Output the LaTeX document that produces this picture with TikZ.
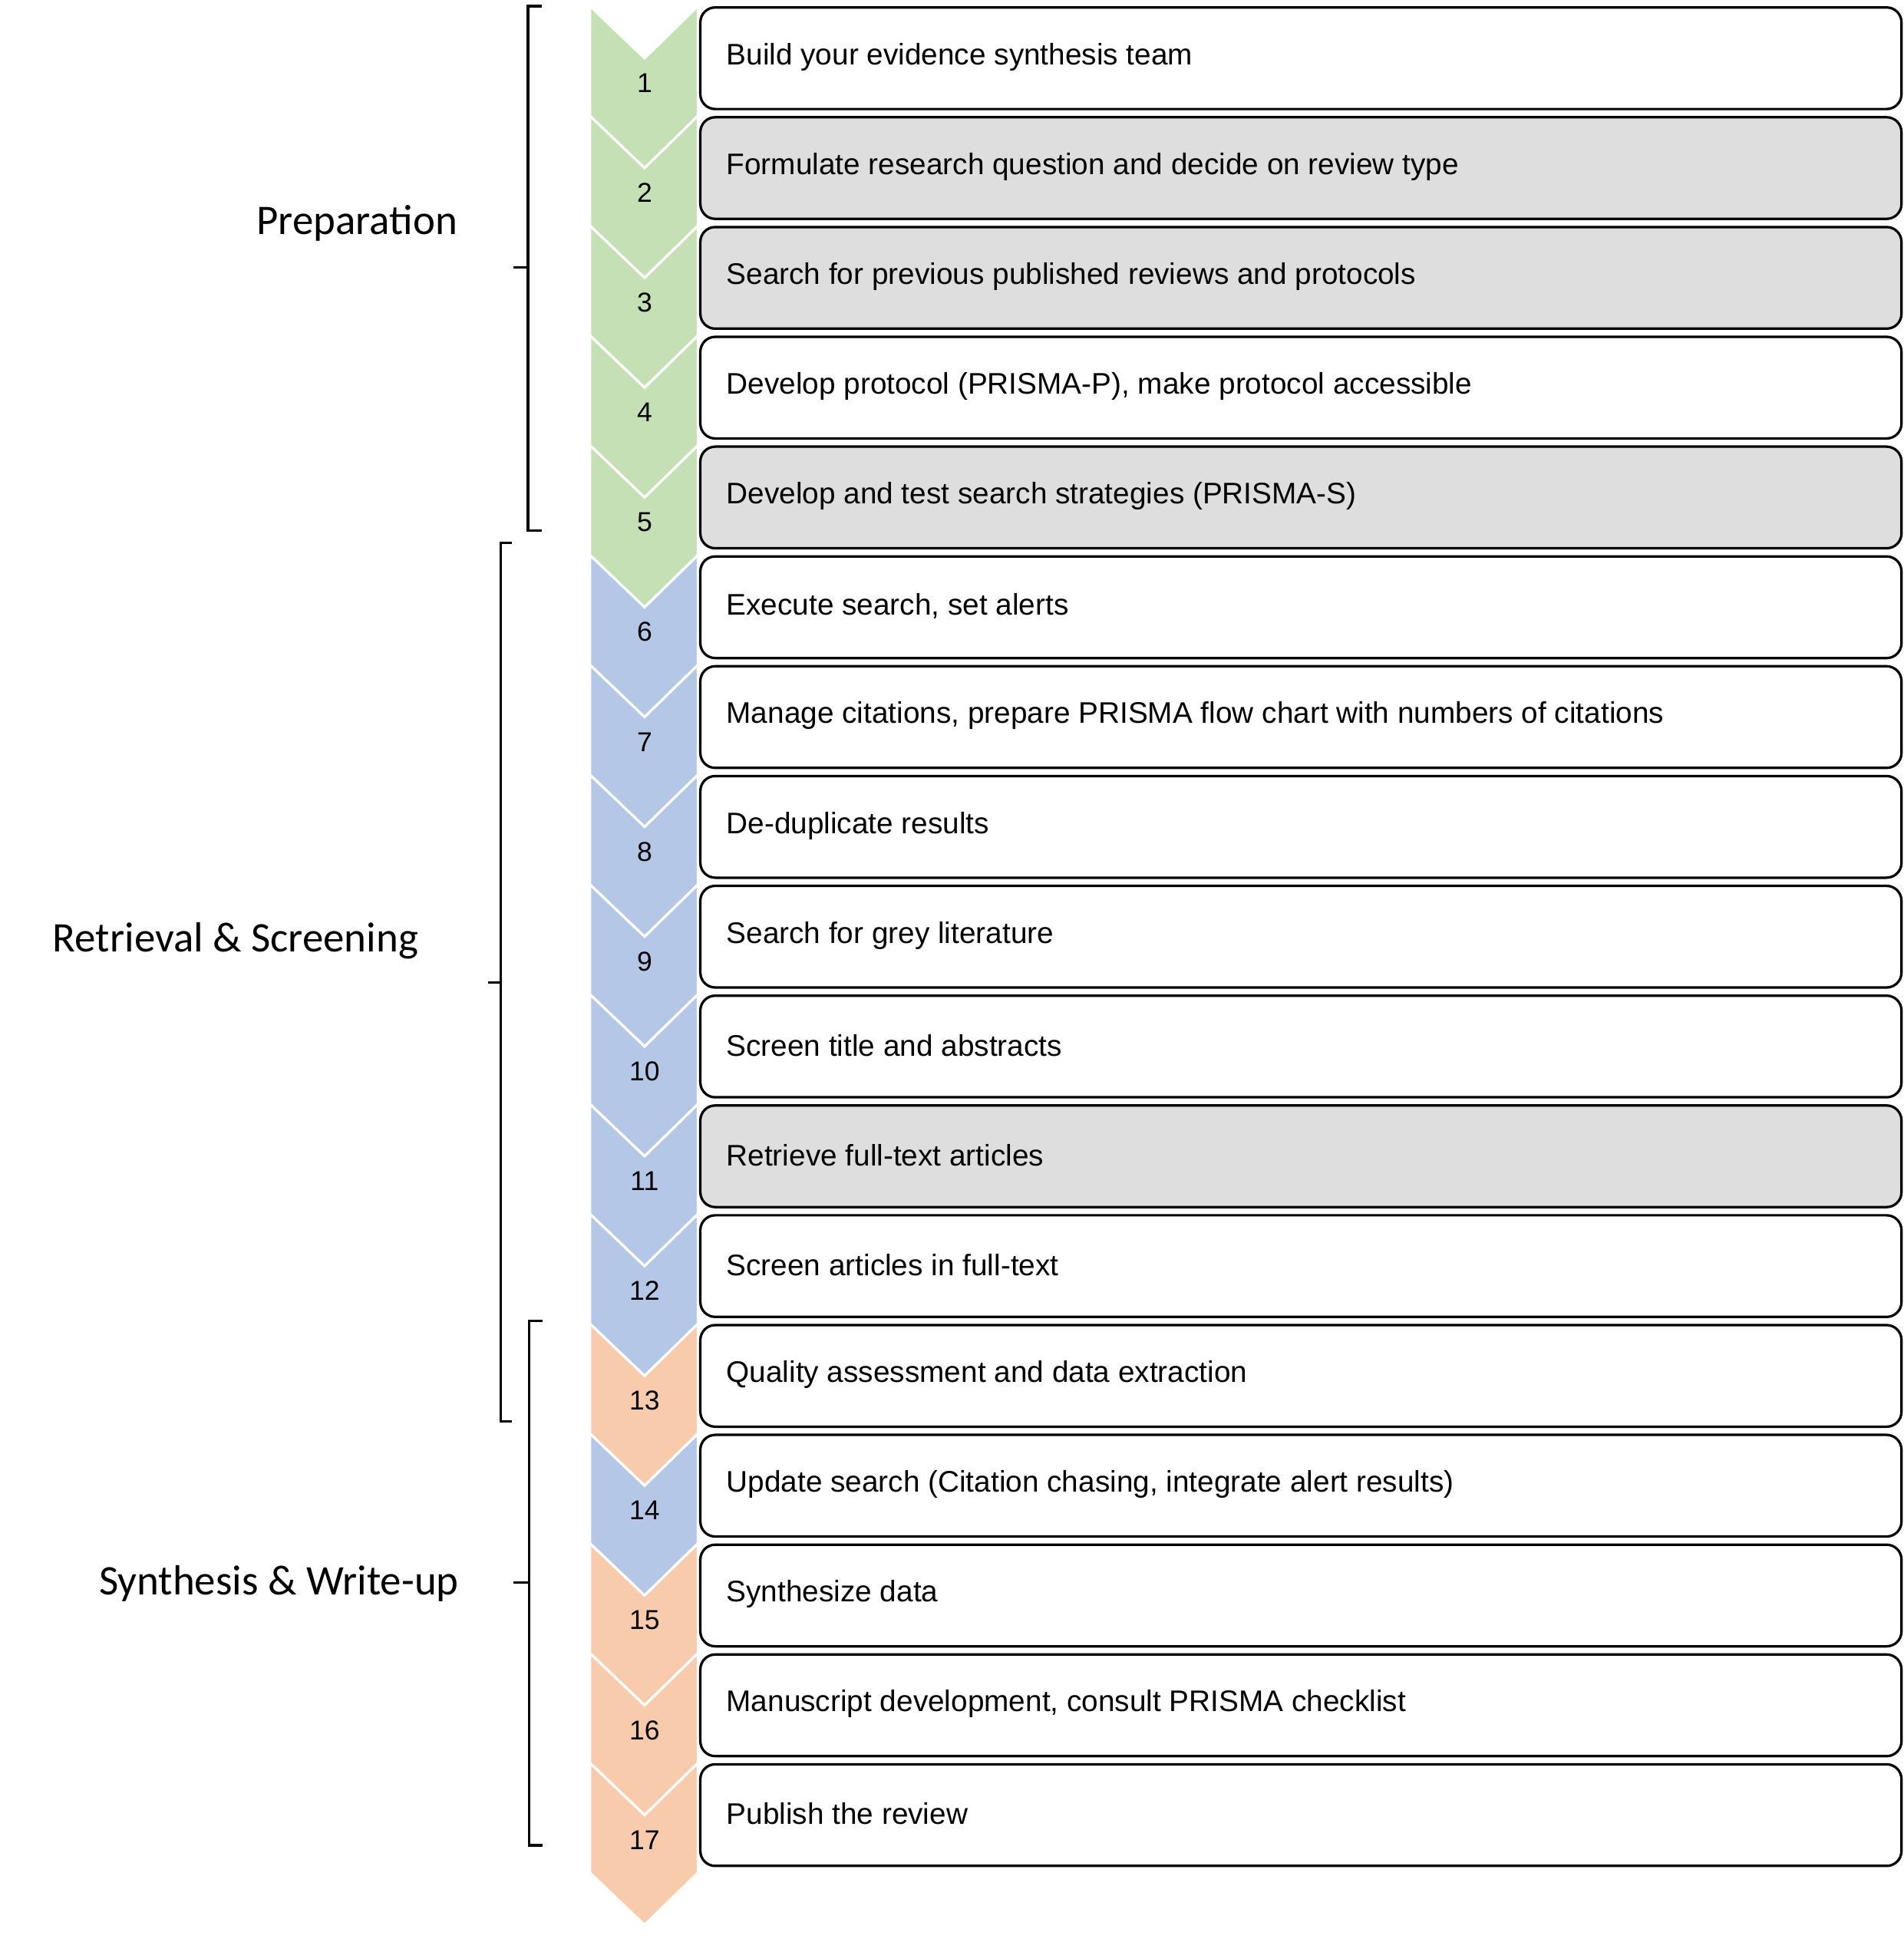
\documentclass[tikz,border=0pt]{standalone}
\usepackage{fontspec}
\setmainfont{Liberation Sans}
\newfontfamily\calib{Carlito}
\definecolor{cgreen}{HTML}{C5E0B4}
\definecolor{cblue}{HTML}{B4C7E7}
\definecolor{corange}{HTML}{F8CBAD}
\definecolor{cgrey}{HTML}{DEDEDE}
\begin{document}
\begin{tikzpicture}[x=0.5pt,y=-0.5pt,
  stepbox/.style={draw=black,line width=1pt,rounded corners=6pt,minimum width=484.5pt,minimum height=41pt,anchor=north west,inner sep=0pt},
  steptext/.style={anchor=west,font=\fontsize{12}{14}\selectfont},
  numtext/.style={font=\fontsize{11}{13}\selectfont},
  grouplabel/.style={font=\calib\fontsize{17}{20}\selectfont},
  bracepath/.style={draw=black,line width=1pt}]
\useasboundingbox (0,0) rectangle (1536,1567);
\fill[white] (0,0) rectangle (1536,1567);
\def\rh{88.6}
\foreach \i/\c/\f/\t in {
 1/cgreen/white/Build your evidence synthesis team,
 2/cgreen/cgrey/Formulate research question and decide on review type,
 3/cgreen/cgrey/Search for previous published reviews and protocols,
 4/cgreen/white/{Develop protocol (PRISMA-P), make protocol accessible},
 5/cgreen/cgrey/Develop and test search strategies (PRISMA-S),
 6/cblue/white/{Execute search, set alerts},
 7/cblue/white/{Manage citations, prepare PRISMA flow chart with numbers of citations},
 8/cblue/white/De-duplicate results,
 9/cblue/white/Search for grey literature,
 10/cblue/white/Screen title and abstracts,
 11/cblue/cgrey/Retrieve full-text articles,
 12/cblue/white/Screen articles in full-text,
 13/corange/white/Quality assessment and data extraction,
 14/cblue/white/{Update search (Citation chasing, integrate alert results)},
 15/corange/white/Synthesize data,
 16/corange/white/{Manuscript development, consult PRISMA checklist},
 17/corange/white/Publish the review}{
  \pgfmathsetmacro\tp{5+(\i-1)*\rh}
  \pgfmathsetmacro\bt{\tp+\rh}
  \filldraw[fill=\c,draw=white,line width=1pt] (476,\tp) -- (520,\tp+42) -- (563,\tp) -- (563,\bt) -- (520,\bt+42) -- (476,\bt) -- cycle;
  \node[numtext] (n\i) at (520,\tp+62) {\i};
  \node[stepbox,fill=\f] (b\i) at (564,\tp) {};
  \node[steptext] (t\i) at (579,\tp+41) {\t};
}
\draw[bracepath] (437,5) -- (426,5) -- (426,428) -- (437,428);
\coordinate (p1) at (426,216); \coordinate (p2) at (414,216);
\draw[bracepath] (p1) -- (p2);
\draw[bracepath] (413,438) -- (404,438) -- (404,1147) -- (413,1147);
\coordinate (r1) at (404,793); \coordinate (r2) at (394,793);
\draw[bracepath] (r1) -- (r2);
\draw[bracepath] (438,1066) -- (427,1066) -- (427,1489) -- (438,1489);
\coordinate (s1) at (427,1277); \coordinate (s2) at (414,1277);
\draw[bracepath] (s1) -- (s2);
\node[grouplabel] (L1) at (288,180) {Preparation};
\node[grouplabel] (L2) at (190,759) {Retrieval \& Screening};
\node[grouplabel] (L3) at (225,1278) {Synthesis \& Write-up};
\end{tikzpicture}
\end{document}
